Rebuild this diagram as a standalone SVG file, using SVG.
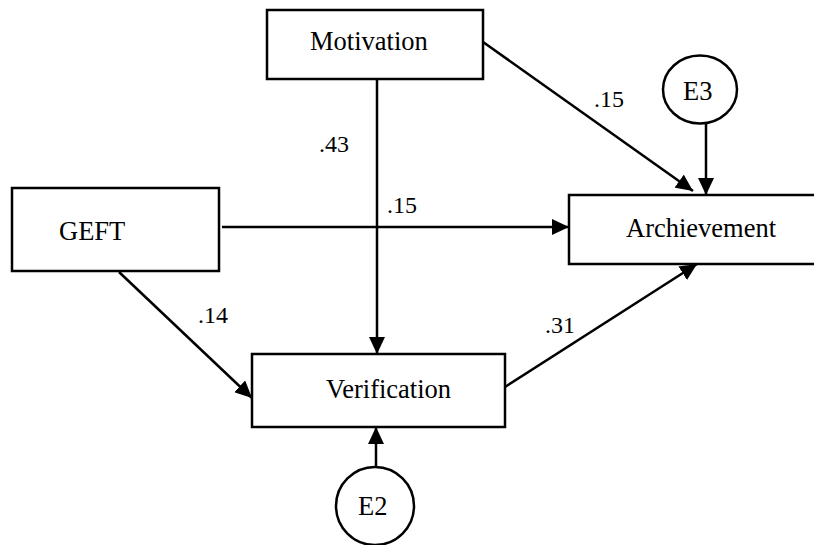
<svg xmlns="http://www.w3.org/2000/svg" width="814" height="545" viewBox="0 0 814 545">
<style>
.box{fill:#fff;stroke:#000;stroke-width:2.5}
.lbl{font-family:"Liberation Serif","Times New Roman",serif;font-size:24px;fill:#000}
.name{font-family:"Liberation Serif","Times New Roman",serif;font-size:26.5px;fill:#000}
.edge{stroke:#000;stroke-width:2.5;fill:none;marker-end:url(#ah)}
</style>
<defs>
<marker id="ah" markerUnits="userSpaceOnUse" markerWidth="18" markerHeight="16" refX="17" refY="8" orient="auto">
<path d="M0,0 L17,8 L0,16 Z" fill="#000"/>
</marker>
</defs>
<rect width="814" height="545" fill="#fff"/>
<g id="connectors">
<line class="edge" x1="377" y1="79" x2="377" y2="354"/>
<line class="edge" x1="222" y1="227" x2="569" y2="227"/>
<line class="edge" x1="483" y1="42" x2="693" y2="191"/>
<line class="edge" x1="706" y1="124" x2="706" y2="195"/>
<line class="edge" x1="119" y1="272" x2="252" y2="398"/>
<line class="edge" x1="505" y1="387" x2="697" y2="264"/>
<line class="edge" x1="376" y1="467" x2="376" y2="427"/>
<text class="lbl" x="319" y="152">.43</text>
<text class="lbl" x="387" y="213">.15</text>
<text class="lbl" x="594" y="107">.15</text>
<text class="lbl" x="198" y="323">.14</text>
<text class="lbl" x="545" y="333">.31</text>
</g>
<g id="motivation">
<rect class="box" x="267" y="10" width="216" height="69"/>
<text class="name" x="310" y="50">Motivation</text>
</g>
<g id="geft">
<rect class="box" x="12" y="188" width="207" height="83"/>
<text class="name" x="59" y="240">GEFT</text>
</g>
<g id="archievement">
<rect class="box" x="569" y="195" width="260" height="69"/>
<text class="name" x="626" y="237">Archievement</text>
</g>
<g id="verification">
<rect class="box" x="252" y="354" width="253" height="73"/>
<text class="name" x="326" y="398">Verification</text>
</g>
<g id="e3">
<ellipse class="box" cx="700" cy="89.5" rx="37" ry="34"/>
<text class="name" x="683" y="100">E3</text>
</g>
<g id="e2">
<ellipse class="box" cx="375" cy="506" rx="39" ry="39"/>
<text class="name" x="358" y="515">E2</text>
</g>
</svg>
